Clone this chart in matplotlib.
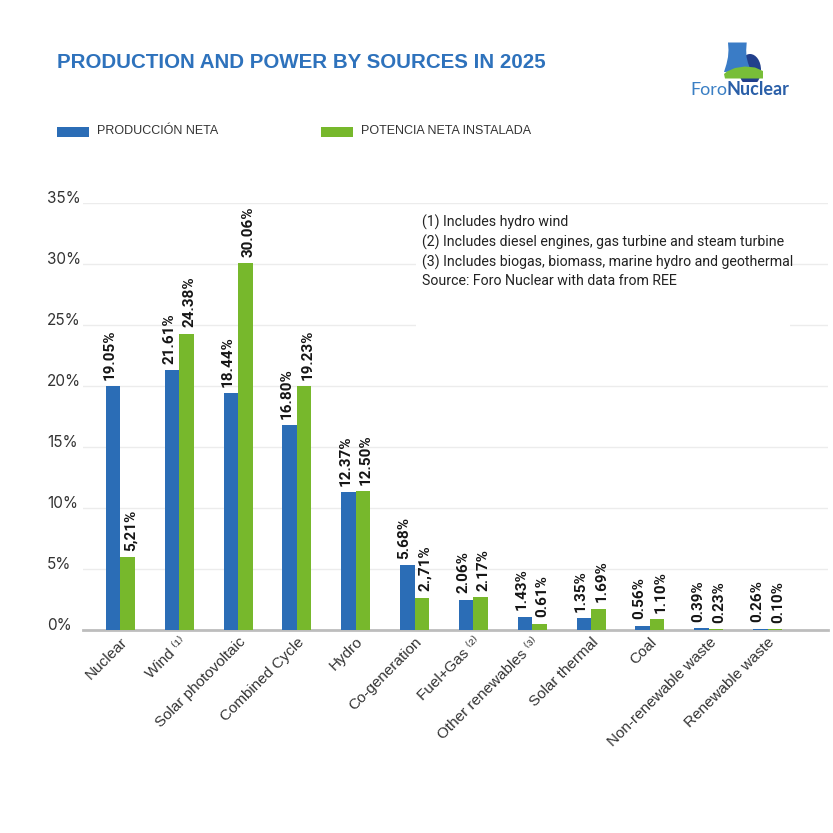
import matplotlib
matplotlib.use("Agg")
import matplotlib.pyplot as plt
import numpy as np
from matplotlib.patches import Polygon, Ellipse, Rectangle
from matplotlib.transforms import ScaledTranslation

# ---------------- data ----------------
categories = ["Nuclear", "Wind \u207d\u00b9\u207e", "Solar photovoltaic", "Combined Cycle", "Hydro",
              "Co-generation", "Fuel+Gas \u207d\u00b2\u207e", "Other renewables \u207d\u00b3\u207e",
              "Solar thermal", "Coal", "Non-renewable waste", "Renewable waste"]
produccion = [20.0, 21.3, 19.4, 16.8, 11.3, 5.3, 2.5, 1.1, 1.0, 0.36, 0.17, 0.12]
potencia = [6.0, 24.3, 30.1, 20.0, 11.4, 2.65, 2.67, 0.52, 1.75, 0.92, 0.10, 0.08]
produccion_labels = ["19.05%", "21.61%", "18.44%", "16.80%", "12.37%", "5.68%", "2.06%",
                     "1.43%", "1.35%", "0.56%", "0.39%", "0.26%"]
potencia_labels = ["5,21%", "24.38%", "30.06%", "19.23%", "12.50%", "2.,71%", "2.17%",
                   "0.61%", "1.69%", "1.10%", "0.23%", "0.10%"]
yticks = [0, 5, 10, 15, 20, 25, 30, 35]
series_names = ["PRODUCCIÓN NETA", "POTENCIA NETA INSTALADA"]
notes = ["(1) Includes hydro wind",
         "(2) Includes diesel engines, gas turbine and steam turbine",
         "(3) Includes biogas, biomass, marine hydro and geothermal",
         "Source: Foro Nuclear with data from REE"]
title = "PRODUCTION AND POWER BY SOURCES IN 2025"

BLUE = "#2B6DB6"
GREEN = "#77B82C"
TITLE_BLUE = "#2E72BC"
W = H = 833

fig = plt.figure(figsize=(8.33, 8.33), dpi=100)
fig.patch.set_facecolor("white")

ax = fig.add_axes([83 / W, 1 - 630 / H, (828 - 83) / W, (630 - 203) / H])
x = np.arange(len(categories))
bw = 0.2465
ax.bar(x - bw / 2, produccion, bw, color=BLUE, edgecolor="none", zorder=3)
ax.bar(x + bw / 2, potencia, bw, color=GREEN, edgecolor="none", zorder=3)

for xs, vals, lbls, dx in [(x - bw / 2, produccion, produccion_labels, -2.2),
                           (x + bw / 2, potencia, potencia_labels, 2.2)]:
    for xi, v, lbl in zip(xs, vals, lbls):
        ax.annotate(lbl, xy=(xi, v), xytext=(dx, 4.5), textcoords="offset points", rotation=90,
                    ha="center", va="bottom", fontsize=11, fontweight="bold", family="Roboto",
                    color="#151515", zorder=5)

ax.set_xlim(-0.637, 12.026)
ax.set_ylim(0, 35)
ax.set_yticks(yticks)
ax.set_yticklabels([f"{t}%" for t in yticks])
ax.yaxis.grid(True, color="#ececec", linewidth=1, zorder=0)
ax.set_axisbelow(True)
for s in ["top", "right", "left"]:
    ax.spines[s].set_visible(False)
ax.spines["bottom"].set_color("#bdbdbd")
ax.spines["bottom"].set_linewidth(2)
ax.tick_params(axis="y", length=0, pad=26, labelsize=11, labelcolor="#333333")
for t in ax.get_yticklabels():
    t.set_horizontalalignment("left")
    t.set_verticalalignment("baseline")
    t.set_family("Inter")

ax.set_xticks(x)
ax.set_xticklabels(categories, rotation=45, ha="right", va="center", rotation_mode="anchor",
                   fontsize=11, color="#333333",
                   family=["Liberation Sans", "DejaVu Sans"])
ax.tick_params(axis="x", length=0, pad=7)
shift = ScaledTranslation(5 / 100, 0, fig.dpi_scale_trans)
for t in ax.get_xticklabels():
    t.set_transform(t.get_transform() + shift)

# white panel behind notes (interrupts the gridlines)
ax.add_patch(Rectangle((0.447, 0.7026), 0.502, 0.285, transform=ax.transAxes,
                       facecolor="white", edgecolor="none", zorder=1))
ax.text(0.4545, 0.972, "\n".join(notes), transform=ax.transAxes, ha="left", va="top",
        fontsize=10.2, family="Roboto", color="#222222", linespacing=1.38, zorder=4)

# title
fig.text(57 / W, 1 - 62 / H, title, ha="left", va="center", fontsize=14.8, fontweight="bold",
         color=TITLE_BLUE, family="Liberation Sans")

# legend
for (lx, col, name) in [(57, BLUE, series_names[0]), (321, GREEN, series_names[1])]:
    fig.patches.append(Rectangle((lx / W, 1 - 137 / H), 32 / W, 10 / H, transform=fig.transFigure,
                                 facecolor=col, edgecolor="none"))
    fig.text((lx + 40) / W, 1 - 131 / H, name, ha="left", va="center", fontsize=9,
             color="#333333", family="Liberation Sans")

# logo text
t1 = fig.text(690 / W, 1 - 98 / H, "Foro", ha="left", va="bottom", fontsize=13,
              color="#3A7FC4", family="Lato")
ax.annotate("Nuclear", xy=(1, 0), xycoords=t1, ha="left", va="bottom", fontsize=13,
            fontweight="bold", color="#2A5FA8", family="Lato", annotation_clip=False)

# logo icon
lax = fig.add_axes([712 / W, 1 - 82 / H, 56 / W, 42 / H])
lax.set_xlim(712, 768)
lax.set_ylim(82, 40)
lax.axis("off")
lax.add_patch(Ellipse((750, 70), 22, 32, facecolor="#22408C", edgecolor="none"))
tower = [(728, 42.5), (746.7, 42.5), (746.2, 50), (746.5, 57), (748, 63), (751, 71),
         (724, 72), (726.5, 64), (728, 57), (728.5, 50)]
lax.add_patch(Polygon(tower, closed=True, facecolor="#3A7CC6", edgecolor="none"))
green = [(724, 74), (727, 71.5), (735, 68), (745, 66.5), (755, 67.5), (763, 71),
         (763, 78.5), (725, 78.5)]
lax.add_patch(Polygon(green, closed=True, facecolor="#78BE38", edgecolor="none"))

fig.savefig("out.png", dpi=100, facecolor="white")
